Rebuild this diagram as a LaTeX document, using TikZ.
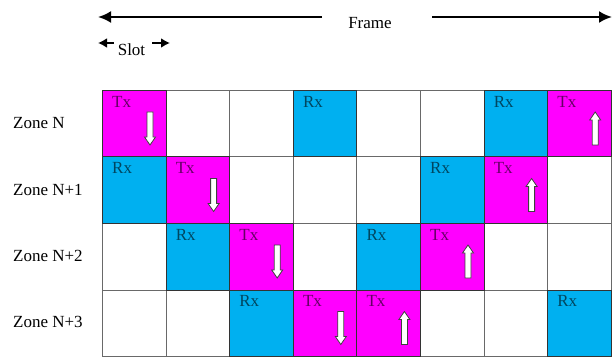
\documentclass[tikz,border=0pt]{standalone}
\usepackage{fontspec}
\setmainfont{Liberation Serif}
\usetikzlibrary{arrows.meta, positioning}
\definecolor{txmagenta}{RGB}{255,0,255}
\definecolor{rxblue}{RGB}{0,176,240}
\definecolor{gridgray}{RGB}{105,105,105}

\begin{document}
\begin{tikzpicture}[x=1pt, y=-1pt,
        cell/.style={rectangle, draw=gridgray, line width=0.9pt, minimum width=63.6pt, minimum height=66.5pt, inner sep=0pt, anchor=north west},
        celltext/.style={anchor=north west, inner sep=0pt, xshift=10pt, yshift=-6pt, font=\fontsize{17}{18}\selectfont, text opacity=0.6},
        tx/.style={cell, draw=black!80, fill=txmagenta, label={[celltext]north west:Tx}},
        rx/.style={cell, draw=black!80, fill=rxblue, label={[celltext]north west:Rx}},
        zone/.style={anchor=west, inner sep=0pt, font=\fontsize{17}{18}\selectfont},
        toptext/.style={inner sep=0pt, font=\fontsize{17}{18}\selectfont},
        framearrow/.style={-{Latex[length=13pt, width=12pt]}, line width=2.2pt},
        slotarrow/.style={-{Latex[length=9pt, width=10pt]}, line width=2pt},
        arrowbody/.style={draw=black!75, fill=white, line width=0.8pt},
        pics/downarr/.style={code={
            \draw[arrowbody] (-3,0) -- (-3,25) -- (-5.5,25) -- (0,33) -- (5.5,25) -- (3,25) -- (3,0) -- cycle;}},
        pics/uparr/.style={code={
            \draw[arrowbody] (-3,33) -- (-3,8) -- (-5.5,8) -- (0,0) -- (5.5,8) -- (3,8) -- (3,33) -- cycle;}}
    ]
    \useasboundingbox (0,0) rectangle (613,358);

    % Frame and slot
    \node[toptext] (frame) at (370,23) {Frame};
    \coordinate (frameL) at (322,17);
    \coordinate (frameLend) at (98,17);
    \coordinate (frameR) at (432,17);
    \coordinate (frameRend) at (612,17);
    \draw[framearrow] (frameL) -- (frameLend);
    \draw[framearrow] (frameR) -- (frameRend);

    \node[toptext] (slot) at (131.5,50) {Slot};
    \coordinate (slotL) at (98,43);
    \coordinate (slotR) at (170,43);
    \draw[slotarrow] (slot.west |- slotL) ++(-4,0) coordinate (slotLs) -- (slotL);
    \draw[slotarrow] (slot.east |- slotR) ++(7,0) coordinate (slotRs) -- (slotR);

    % Zones
    \node[zone] (zN) at (13,123) {Zone N};
    \node[zone] (zN1) at (13,190) {Zone N+1};
    \node[zone] (zN2) at (13,256) {Zone N+2};
    \node[zone] (zN3) at (13,322) {Zone N+3};

    % Slot grid
    \foreach \r in {0,...,3}
        \foreach \c in {0,...,7}
            \node[cell] (c\r\c) at ({102+\c*63.6},{90+\r*66.5}) {};

    % Receive slots
    \foreach \r/\c in {0/3, 0/6, 1/0, 1/5, 2/1, 2/4, 3/2, 3/7}
        \node[rx] (rx\r\c) at (c\r\c.north west) {};

    % Transmit slots
    \foreach \r/\c/\d in {0/0/down, 0/7/up, 1/1/down, 1/6/up, 2/2/down, 2/5/up, 3/3/down, 3/4/up} {
        \node[tx] (tx\r\c) at (c\r\c.north west) {};
        \pic at ([shift={(48,22)}]tx\r\c.north west) {\d arr};
    }

\end{tikzpicture}
\end{document}
